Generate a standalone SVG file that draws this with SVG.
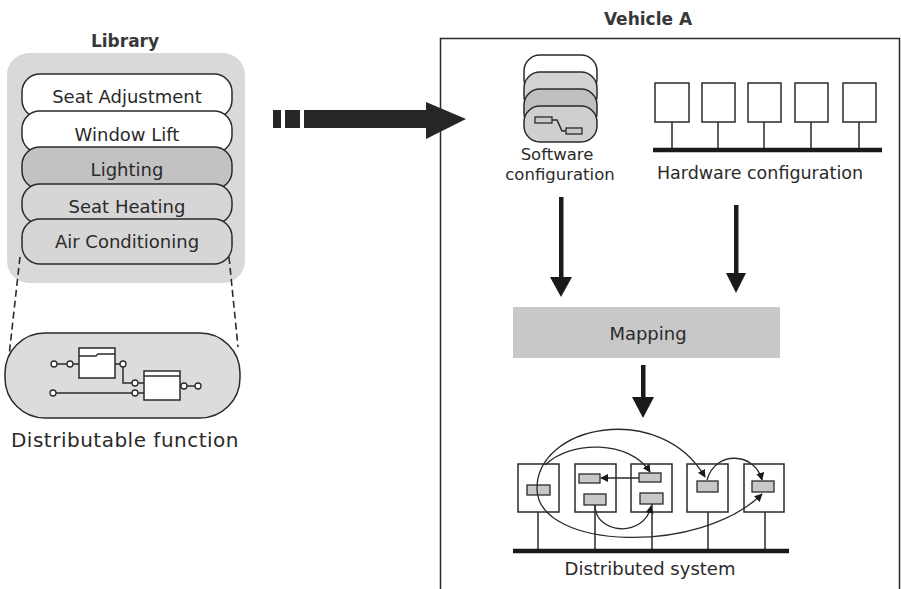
<svg xmlns="http://www.w3.org/2000/svg" width="901" height="589" viewBox="0 0 901 589">
<defs>
<style>
text{font-family:"DejaVu Sans","Verdana",sans-serif;fill:#2a2a2a;text-anchor:middle}
.t18{font-size:18px}
.title{font-size:17px;font-weight:bold;fill:#383838}
.ln{stroke:#2a2a2a;stroke-width:1.5;fill:none}
.pill{stroke:#2a2a2a;stroke-width:1.5}
.box{stroke:#2a2a2a;stroke-width:1.5;fill:#fff}
.sm{stroke:#2a2a2a;stroke-width:1.3;fill:#c8c8c8}
.thick{stroke:#1a1a1a;stroke-width:4.5;fill:none}
.dash{stroke:#2a2a2a;stroke-width:1.6;stroke-dasharray:7 4;fill:none}
.cur{stroke:#2a2a2a;stroke-width:1.3;fill:none}
.port{stroke:#2a2a2a;stroke-width:1.3;fill:#fff}
</style>
<marker id="ah" viewBox="0 0 10 10" refX="9" refY="5" markerWidth="8" markerHeight="8" markerUnits="userSpaceOnUse" orient="auto">
<path d="M0,0 L10,5 L0,10 z" fill="#1a1a1a"/>
</marker>
</defs>

<g id="library">
<text class="title" x="125" y="47">Library</text>
<rect x="7" y="53" width="238" height="230" rx="22" fill="#d9d9d9"/>
<g id="seat-adjustment"><rect class="pill" x="22" y="74" width="210" height="44" rx="18" fill="#fff"/><text class="t18" x="127" y="103">Seat Adjustment</text></g>
<g id="window-lift"><rect class="pill" x="22" y="111" width="210" height="42" rx="18" fill="#fff"/><text class="t18" x="127" y="141">Window Lift</text></g>
<g id="lighting"><rect class="pill" x="22" y="147" width="210" height="42" rx="18" fill="#c2c2c2"/><text class="t18" x="127" y="176">Lighting</text></g>
<g id="seat-heating"><rect class="pill" x="22" y="184" width="210" height="40" rx="18" fill="#d6d6d6"/><text class="t18" x="127" y="213">Seat Heating</text></g>
<g id="air-conditioning"><rect class="pill" x="22" y="219" width="210" height="45" rx="18" fill="#d6d6d6"/><text class="t18" x="127" y="248">Air Conditioning</text></g>
</g>

<g id="distributable-function">
<rect class="pill" x="5" y="333" width="235" height="85" rx="40" fill="#dcdcdc"/>
<rect class="box" x="79" y="348" width="36" height="30" fill="none"/>
<path class="ln" d="M79,356 H96 L98,354 H115"/>
<rect class="box" x="144" y="371" width="36" height="29" fill="none"/>
<path class="ln" d="M144,376 H180"/>
<path class="ln" d="M57,364 H67 M73,364 H79 M115,364 H120 M123,367 V383 H132 M138,383 H144 M56,393 H132 M138,393 H144 M180,386 H182 M187,386 H195"/>
<circle class="port" cx="54" cy="364" r="3"/><circle class="port" cx="70" cy="364" r="3"/>
<circle class="port" cx="123" cy="364" r="3"/><circle class="port" cx="135" cy="383" r="3"/>
<circle class="port" cx="53" cy="393" r="3"/><circle class="port" cx="135" cy="393" r="3"/>
<circle class="port" cx="184" cy="386" r="3"/><circle class="port" cx="198" cy="386" r="3"/>
<text x="125" y="447" style="font-size:20px;letter-spacing:0.5px">Distributable function</text>
</g>

<g id="vehicle-a">
<text class="title" x="648" y="25">Vehicle A</text>
<rect x="440.5" y="38.5" width="459" height="570" fill="none" stroke="#2a2a2a" stroke-width="1.5"/>
</g>

<g id="software-configuration">
<rect class="pill" x="524" y="55" width="73" height="40" rx="16" fill="#fff"/>
<rect class="pill" x="524" y="72" width="73" height="40" rx="16" fill="#d2d2d2"/>
<rect class="pill" x="524" y="89" width="73" height="40" rx="16" fill="#bfbfbf"/>
<rect class="pill" x="524" y="106" width="73" height="36" rx="16" fill="#cfcfcf"/>
<rect class="sm" x="535" y="117" width="17" height="6" fill="#e8e8e8"/>
<rect class="sm" x="566" y="128" width="16" height="6" fill="#e8e8e8"/>
<path class="ln" d="M552,120 H557 L562,131 H566" stroke-width="1.2"/>
<text x="557" y="160" style="font-size:16.5px">Software</text>
<text x="560" y="180" style="font-size:16.5px">configuration</text>
</g>

<g id="hardware-configuration">
<rect class="box" x="655" y="83" width="34" height="39"/>
<rect class="box" x="702" y="83" width="33" height="39"/>
<rect class="box" x="748" y="83" width="33" height="39"/>
<rect class="box" x="795" y="83" width="33" height="39"/>
<rect class="box" x="843" y="83" width="33" height="39"/>
<path class="ln" d="M672,122 V150 M718,122 V150 M764,122 V150 M811,122 V150 M859,122 V150"/>
<path class="thick" d="M653,150 H882"/>
<text x="760" y="179" style="font-size:17.5px">Hardware configuration</text>
</g>

<g id="mapping">
<rect x="513" y="307" width="267" height="51" fill="#c8c8c8"/>
<text class="t18" x="648" y="340">Mapping</text>
</g>

<g id="distributed-system">
<rect class="box" x="518" y="464" width="41" height="48"/>
<rect class="box" x="575" y="464" width="41" height="48"/>
<rect class="box" x="631" y="464" width="41" height="48"/>
<rect class="box" x="687" y="464" width="41" height="48"/>
<rect class="box" x="744" y="464" width="40" height="48"/>
<rect class="sm" x="527" y="485" width="23" height="10"/>
<rect class="sm" x="579" y="474" width="21" height="9"/>
<rect class="sm" x="584" y="494" width="22" height="11"/>
<rect class="sm" x="639" y="473" width="22" height="9" fill="#fff"/>
<rect class="sm" x="640" y="493" width="23" height="11"/>
<rect class="sm" x="697" y="481" width="21" height="11"/>
<rect class="sm" x="752" y="481" width="22" height="11"/>
<path class="ln" d="M538,512 V551 M595,505 V551 M652,504 V551 M708,512 V551 M765,512 V551"/>
<path class="thick" d="M513,551 H789"/>
<text class="t18" x="650" y="575">Distributed system</text>
</g>

<g id="connectors">
<g id="big-arrow" fill="#262626">
<rect x="273" y="110" width="8" height="18"/>
<rect x="285" y="110" width="15" height="18"/>
<rect x="304" y="110" width="124" height="18"/>
<path d="M426,102 L466,119 L426,139 z"/>
</g>
<g id="down-arrows" fill="#1a1a1a">
<rect x="559" y="197" width="4.5" height="82"/>
<path d="M550,277 L572,277 L561,297 z"/>
<rect x="734" y="205" width="4.5" height="70"/>
<path d="M726,273 L746,273 L736,293 z"/>
<rect x="641" y="365" width="4.5" height="34"/>
<path d="M632,397 L654,397 L643,418 z"/>
</g>
<path class="dash" d="M20,257 L9,356"/>
<path class="dash" d="M229,257 L238,347"/>
<g id="ds-links">
<path class="cur" d="M537,490 C535,425 660,400 705,477" marker-end="url(#ah)"/>
<path class="cur" d="M545,465 C570,440 630,440 650,472" marker-end="url(#ah)"/>
<path class="cur" d="M537,490 C540,550 700,555 762,494" marker-end="url(#ah)"/>
<path class="cur" d="M639,478 L601,478" marker-end="url(#ah)"/>
<path class="cur" d="M595,505 C595,535 645,538 651,506" marker-end="url(#ah)"/>
<path class="cur" d="M707,480 C715,450 755,452 762,480" marker-end="url(#ah)"/>
</g>
</g>
</svg>
